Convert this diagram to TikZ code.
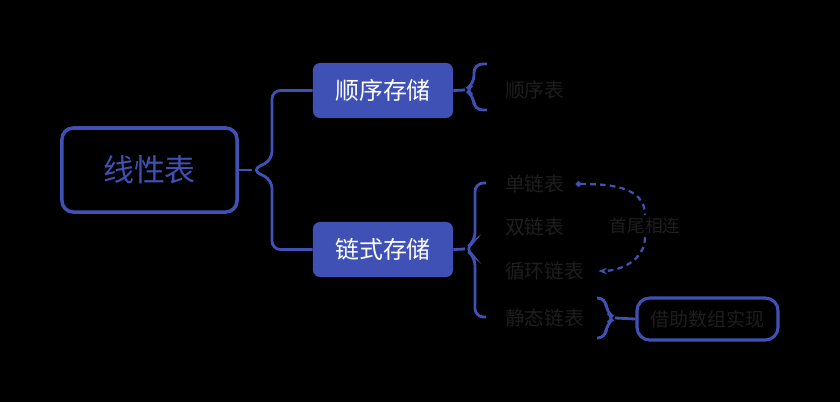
\documentclass[tikz,border=0pt]{standalone}
\usepackage{fontspec}
\setmainfont{Noto Sans CJK SC}
\usepackage{xcolor}
\usetikzlibrary{arrows.meta, positioning, calc}
\definecolor{mapblue}{HTML}{3F51B5}
\definecolor{labelgray}{HTML}{1E1E1E}

\begin{document}
\begin{tikzpicture}[x=0.025cm, y=-0.025cm]
	\tikzstyle{rootbox} = [rectangle, rounded corners=8, draw=mapblue, line width=2.5pt, minimum width=4.375cm, minimum height=2.1cm, text=mapblue, font=\fontsize{22}{25}\selectfont]
	\tikzstyle{store} = [rectangle, rounded corners=5, fill=mapblue, minimum width=3.5cm, minimum height=1.375cm, text=white, font=\fontsize{17}{20}\selectfont]
	\tikzstyle{leaf} = [anchor=west, inner sep=0pt, text=labelgray, font=\fontsize{14}{16}\selectfont]
	\tikzstyle{note} = [rectangle, rounded corners=9, draw=mapblue, line width=2.2pt, minimum width=3.525cm, minimum height=1.05cm, text=labelgray, font=\fontsize{13.5}{16}\selectfont]
	\tikzstyle{brace} = [draw=mapblue, line width=2pt, rounded corners=6]
	\tikzstyle{arrow} = [draw=mapblue, line width=1.6pt, dash pattern=on 4pt off 3pt]

	\fill[black] (0,0) rectangle (840,402);

	\node (root) [rootbox] at (149.5,170) {线性表};
	\node (seq) [store] at (383,90.5) {顺序存储};
	\node (link) [store] at (383,249.5) {链式存储};

	\node (seqtab) [leaf] at (505,90) {顺序表};
	\node (single) [leaf] at (505,184) {单链表};
	\node (double) [leaf] at (505,227) {双链表};
	\node (cycle) [leaf] at (505,271) {循环链表};
	\node (static) [leaf] at (505,318) {静态链表};
	\node (joint) [text=labelgray, fill=black, inner sep=2pt, font=\fontsize{12.5}{15}\selectfont] at (645,226) {首尾相连};
	\node (array) [note] at (707.5,319) {借助数组实现};

	% braces
	\coordinate (tipA) at (252,170);
	\draw [brace] (root.east) -- (tipA);
	\draw [brace] (seq.west) -| (272,160) -- (tipA) -- (272,180) |- (link.west);

	\coordinate (tipB) at (465,90);
	\draw [brace] (seq.east) -- (tipB);
	\draw [brace] (487,64) -| (474,84) -- (tipB) -- (474,96) |- (487,110);

	\coordinate (tipC) at (465,249);
	\draw [brace] (link.east) -- (tipC);
	\draw [brace] (486,183) -| (475,241) -- (tipC) -- (475,257) |- (486,317);

	\coordinate (tipD) at (615,318);
	\draw [brace] (597,298) -| (606,312) -- (tipD) -- (606,324) |- (597,338);
	\draw [brace] (tipD) -- (array.west);

	% loop arrow
	\draw [arrow, {Circle[length=4pt]}-] ([xshift=8]single.east) to[out=0, in=90] (joint.north);
	\draw [arrow, -{Stealth[length=6pt]}] (joint.south) to[out=-90, in=0] ([xshift=10]cycle.east);
\end{tikzpicture}
\end{document}
